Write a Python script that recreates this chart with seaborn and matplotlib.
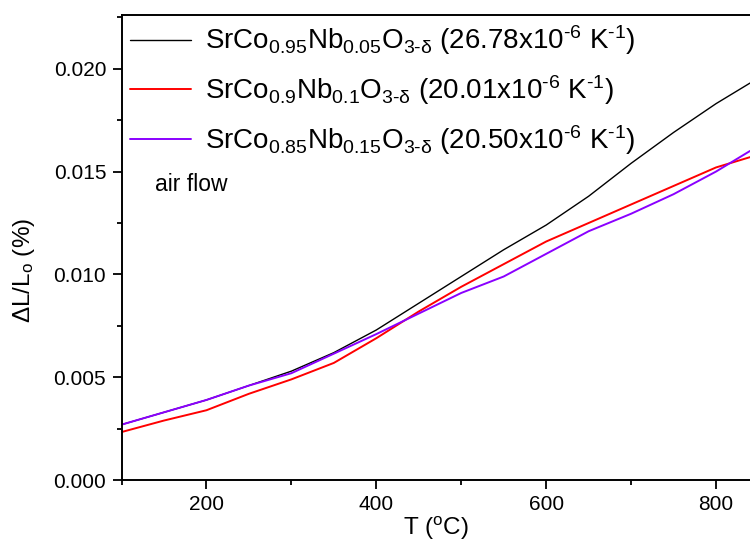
import numpy as np
import pandas as pd
import matplotlib
matplotlib.use("Agg")
import matplotlib.pyplot as plt
from matplotlib.ticker import MultipleLocator, FormatStrFormatter
import seaborn as sns

# Dilatometry curves: relative expansion vs temperature
temp_c = [100, 150, 200, 250, 300, 350, 400, 450, 500, 550, 600, 650, 700, 750, 800, 840]

dl_nb005 = [0.0027, 0.0033, 0.0039, 0.0046, 0.0053, 0.0062, 0.0073, 0.0086, 0.0099,
            0.0112, 0.0124, 0.0138, 0.0154, 0.0169, 0.0183, 0.0193]
dl_nb010 = [0.00234, 0.0029, 0.0034, 0.0042, 0.0049, 0.0057, 0.0069, 0.0082, 0.0094,
            0.0105, 0.0116, 0.0125, 0.0134, 0.0143, 0.0152, 0.0157]
dl_nb015 = [0.0027, 0.0033, 0.0039, 0.0046, 0.0052, 0.00615, 0.0071, 0.0081, 0.0091,
            0.0099, 0.0110, 0.0121, 0.01295, 0.0139, 0.0150, 0.0160]

series_labels = [
    r"SrCo$_\mathregular{0.95}$Nb$_\mathregular{0.05}$O$_\mathregular{3\text{-}\delta}$ (26.78x10$^\mathregular{\text{-}6}$ K$^\mathregular{\text{-}1}$)",
    r"SrCo$_\mathregular{0.9}$Nb$_\mathregular{0.1}$O$_\mathregular{3\text{-}\delta}$ (20.01x10$^\mathregular{\text{-}6}$ K$^\mathregular{\text{-}1}$)",
    r"SrCo$_\mathregular{0.85}$Nb$_\mathregular{0.15}$O$_\mathregular{3\text{-}\delta}$ (20.50x10$^\mathregular{\text{-}6}$ K$^\mathregular{\text{-}1}$)",
]
series_colors = ["#000000", "#ff0000", "#8a00ff"]
series_widths = [1.0, 1.4, 1.4]

sns.set_style("ticks")
plt.rcParams["font.family"] = ["Liberation Sans", "DejaVu Sans"]
plt.rcParams["mathtext.fontset"] = "custom"
plt.rcParams["mathtext.rm"] = "Liberation Sans"
plt.rcParams["mathtext.it"] = "Liberation Sans"
plt.rcParams["mathtext.bf"] = "Liberation Sans:bold"
plt.rcParams["text.color"] = "black"
plt.rcParams["axes.labelcolor"] = "black"

frames = []
for lab, vals in zip(series_labels, [dl_nb005, dl_nb010, dl_nb015]):
    frames.append(pd.DataFrame({"T": temp_c, "dL": vals, "sample": lab}))
df = pd.concat(frames, ignore_index=True)

fig = plt.figure(figsize=(7.5, 5.42), dpi=100)
ax = fig.add_axes([0.162, 0.114, 0.838, 0.858])

for lab, col, lw in zip(series_labels, series_colors, series_widths):
    sns.lineplot(data=df[df["sample"] == lab], x="T", y="dL", color=col,
                 linewidth=lw, label=lab, ax=ax, estimator=None, sort=False)

ax.set_xlim(100, 840)
ax.set_ylim(0, 0.0226)
ax.xaxis.set_major_locator(MultipleLocator(200))
ax.xaxis.set_minor_locator(MultipleLocator(100))
ax.yaxis.set_major_locator(MultipleLocator(0.005))
ax.yaxis.set_minor_locator(MultipleLocator(0.0025))
ax.yaxis.set_major_formatter(FormatStrFormatter("%.3f"))

ax.tick_params(which="major", direction="out", length=6.5, width=1.3, pad=4.5,
               labelsize=15, colors="black")
ax.tick_params(which="minor", direction="out", length=3.5, width=1.3, colors="black")
for side in ["left", "bottom", "top"]:
    ax.spines[side].set_linewidth(1.4)
    ax.spines[side].set_color("black")
ax.spines["right"].set_visible(False)

ax.set_xlabel(r"T ($^\mathregular{o}$C)", fontsize=17.5, labelpad=0.5)
ax.set_ylabel(r"$\Delta$L/L$_\mathregular{o}$ (%)", fontsize=17.5)
ax.yaxis.set_label_coords(-0.135, 0.45)

ax.text(140, 0.01438, "air flow", fontsize=16.5, va="center", ha="left")

leg = ax.legend(loc="upper left", frameon=False, fontsize=20, handlelength=2.2,
                handletextpad=0.5, labelspacing=0.58, borderaxespad=0.1,
                borderpad=0.2)

fig.savefig("out.png", dpi=100)
